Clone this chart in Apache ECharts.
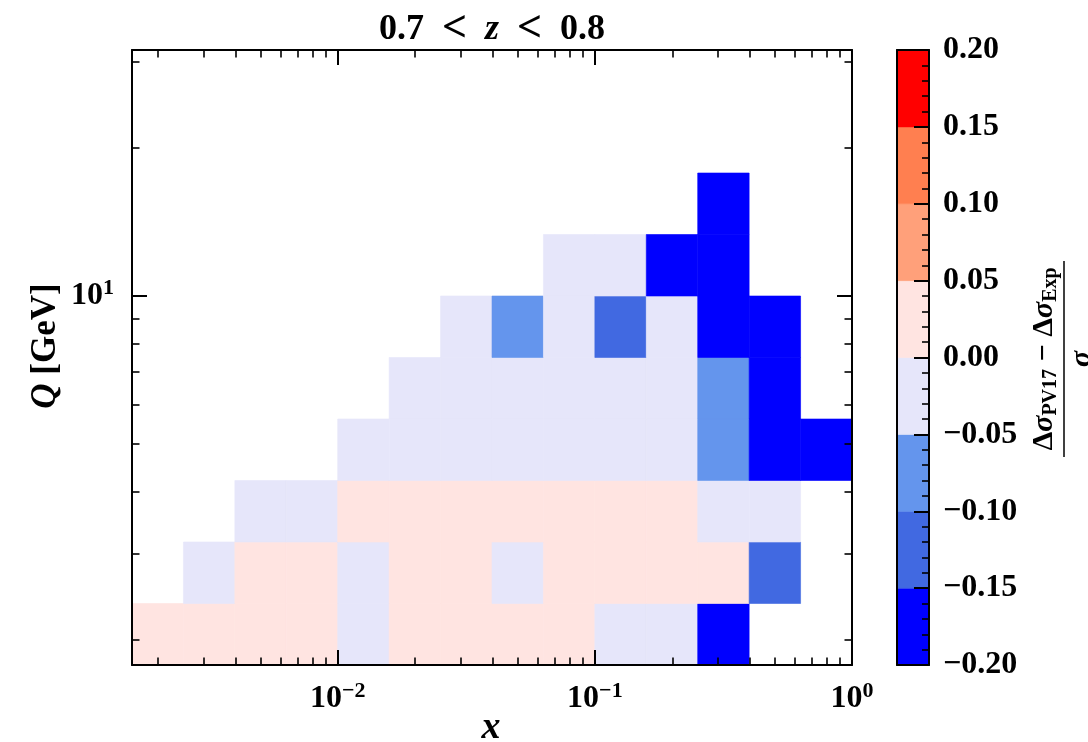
<!DOCTYPE html>
<html><head><meta charset="utf-8">
<script src="https://cdn.jsdelivr.net/npm/echarts@6/dist/echarts.min.js"></script>
<style>html,body{margin:0;padding:0;background:#fff}#c{width:1088px;height:742px}</style>
</head><body><div id="c"></div>
<script>
// ---- data (log10 bin edges, values per Q row from lowest Q upwards) ----
const xLog10Edges = [-2.8,-2.6,-2.4,-2.2,-2.0,-1.8,-1.6,-1.4,-1.2,-1.0,-0.8,-0.6,-0.4,-0.2,0.0];
const qLog10Edges = [0.25,0.375,0.5,0.625,0.75,0.875,1.0,1.125,1.25,1.375,1.5];
const row0 = [0.02,0.03,0.02,0.01,-0.01,0.02,0.01,0.03,0.02,-0.02,-0.01,-0.17,null,null];
const row1 = [null,-0.02,0.01,0.02,-0.03,0.02,0.01,-0.01,0.02,0.03,0.01,0.02,-0.12,null];
const row2 = [null,null,-0.01,-0.02,0.01,0.02,0.02,0.01,0.03,0.02,0.01,-0.02,-0.03,null];
const row3 = [null,null,null,null,-0.02,-0.01,-0.02,-0.03,-0.01,-0.02,-0.04,-0.07,-0.18,-0.19];
const row4 = [null,null,null,null,null,-0.02,-0.01,-0.03,-0.02,-0.01,-0.03,-0.08,-0.17,null];
const row5 = [null,null,null,null,null,null,-0.02,-0.07,-0.01,-0.13,-0.03,-0.18,-0.16,null];
const row6 = [null,null,null,null,null,null,null,null,-0.02,-0.03,-0.17,-0.19,null,null];
const row7 = [null,null,null,null,null,null,null,null,null,null,null,-0.18,null,null];
const rows = [row0,row1,row2,row3,row4,row5,row6,row7];

const levelEdges = [-0.20,-0.15,-0.10,-0.05,0.00,0.05,0.10,0.15,0.20];
const levelColors = ['#0000ff','#4169e1','#6495ed','#e6e6fa','#ffe4e1','#ffa07a','#ff7f50','#ff0000'];

const xMajorTicks = [0.01,0.1,1];
const xMinorTicks = [0.002,0.003,0.004,0.005,0.006,0.007,0.008,0.009,
                     0.02,0.03,0.04,0.05,0.06,0.07,0.08,0.09,
                     0.2,0.3,0.4,0.5,0.6,0.7,0.8,0.9];
const qMajorTicks = [10];
const qMinorTicks = [2,3,4,5,6,7,8,9,20,30];

// ---- build ----
const FONT = "'Liberation Serif','DejaVu Serif',serif";
const L = v => Math.log10(v);
const cells = [];
rows.forEach((r, i) => r.forEach((v, j) => {
  if (v !== null) cells.push([xLog10Edges[j], xLog10Edges[j+1], qLog10Edges[i], qLog10Edges[i+1], v]);
}));
const cbarCells = levelColors.map((c, k) => [0, 1, levelEdges[k], levelEdges[k+1], (levelEdges[k]+levelEdges[k+1])/2]);

const pieces = levelColors.map((c, k) => ({gte: levelEdges[k], lt: levelEdges[k+1], color: c}));

function renderRect(params, api) {
  const p0 = api.coord([api.value(0), api.value(3)]);
  const p1 = api.coord([api.value(1), api.value(2)]);
  const col = api.visual('color');
  return {type: 'rect', shape: {x: p0[0], y: p0[1], width: p1[0]-p0[0], height: p1[1]-p0[1]},
          style: {fill: col, stroke: col, lineWidth: 0.6}};
}

const line = {show: true, onZero: false, lineStyle: {color: '#000', width: 2}};
const noLine = {show: false, onZero: false};
const supRich = {
  b: {fontFamily: FONT, fontWeight: 'bold', fontSize: 32, lineHeight: 38, color: '#000'},
  s: {fontFamily: FONT, fontWeight: 'bold', fontSize: 22, lineHeight: 24, verticalAlign: 'top', color: '#000'}
};
const expLabel = v => { const e = Math.round(v); return '{b|10}{s|' + (e < 0 ? '\u2212' + (-e) : e) + '}'; };

function axX(pos, major, labels) {
  const vals = (major ? xMajorTicks : xMinorTicks).map(L);
  return {type: 'value', gridIndex: 0, position: pos, min: -2.8, max: 0, z: 10,
    axisLine: major ? line : noLine,
    axisTick: {show: true, inside: true, length: major ? 15 : 7.5, customValues: vals, lineStyle: {color: '#000', width: major ? 2 : 1.6}},
    axisLabel: labels ? {show: true, customValues: vals, formatter: expLabel, rich: supRich, margin: 15} : {show: false},
    splitLine: {show: false}};
}
function axY(pos, major, labels) {
  const vals = (major ? qMajorTicks : qMinorTicks).map(L);
  return {type: 'value', gridIndex: 0, position: pos, min: 0.25, max: 1.5, z: 10,
    axisLine: major ? line : noLine,
    axisTick: {show: true, inside: true, length: major ? 15 : 7.5, customValues: vals, lineStyle: {color: '#000', width: major ? 2 : 1.6}},
    axisLabel: labels ? {show: true, customValues: vals, formatter: expLabel, rich: supRich, margin: 18} : {show: false},
    splitLine: {show: false}};
}

const option = {
  animation: false,
  backgroundColor: '#fff',
  grid: [
    {left: 132, top: 50, width: 720, height: 615},
    {left: 897, top: 50, width: 32, height: 615}
  ],
  visualMap: {type: 'piecewise', show: false, dimension: 4, seriesIndex: [0, 1], pieces: pieces},
  xAxis: [
    axX('bottom', true, true), axX('bottom', false, false), axX('top', true, false), axX('top', false, false),
    {type: 'value', gridIndex: 1, position: 'bottom', min: 0, max: 1, z: 10, axisLine: line, axisTick: {show: false}, axisLabel: {show: false}, splitLine: {show: false}},
    {type: 'value', gridIndex: 1, position: 'top', min: 0, max: 1, z: 10, axisLine: line, axisTick: {show: false}, axisLabel: {show: false}, splitLine: {show: false}}
  ],
  yAxis: [
    axY('left', true, true), axY('left', false, false), axY('right', true, false), axY('right', false, false),
    {type: 'value', gridIndex: 1, position: 'right', min: -0.2, max: 0.2, interval: 0.05, z: 10,
      axisLine: line,
      axisTick: {show: true, inside: true, length: 15, lineStyle: {color: '#000', width: 2}},
      minorTick: {show: true, splitNumber: 5, length: 7, lineStyle: {color: '#000', width: 1.6}},
      axisLabel: {show: true, margin: 14, color: '#000', fontFamily: FONT, fontWeight: 'bold', fontSize: 32,
        formatter: v => Math.abs(v) < 1e-9 ? '0.00' : (v < 0 ? '\u2212' : '') + Math.abs(v).toFixed(2)},
      splitLine: {show: false}, minorSplitLine: {show: false}},
    {type: 'value', gridIndex: 1, position: 'left', min: -0.2, max: 0.2, z: 10, axisLine: line, axisTick: {show: false}, axisLabel: {show: false}, splitLine: {show: false}}
  ],
  series: [
    {type: 'custom', xAxisIndex: 0, yAxisIndex: 0, renderItem: renderRect, encode: {x: [0, 1], y: [2, 3]}, data: cells, clip: true},
    {type: 'custom', xAxisIndex: 4, yAxisIndex: 4, renderItem: renderRect, encode: {x: [0, 1], y: [2, 3]}, data: cbarCells}
  ],
  graphic: [
    {type: 'text', x: 492, y: 30, style: {
      text: '{n|0.7}{r|<}{i|z}{r|<}{n|0.8}', align: 'center', verticalAlign: 'middle',
      rich: {
        n: {fontFamily: FONT, fontWeight: 'bold', fontSize: 36, fill: '#000'},
        i: {fontFamily: FONT, fontWeight: 'bold', fontStyle: 'italic', fontSize: 36, fill: '#000'},
        r: {fontFamily: FONT, fontWeight: 'bold', fontSize: 44, fill: '#000', padding: [0, 18, 0, 18]}
      }}},
    {type: 'text', x: 491, y: 728, style: {text: 'x', align: 'center', verticalAlign: 'middle',
      fontFamily: FONT, fontWeight: 'bold', fontStyle: 'italic', fontSize: 38, fill: '#000'}},
    {type: 'text', x: 46, y: 346, rotation: Math.PI / 2, style: {
      text: '{i|Q} [GeV]', align: 'center', verticalAlign: 'middle',
      fontFamily: FONT, fontWeight: 'bold', fontSize: 35, fill: '#000',
      rich: {i: {fontFamily: FONT, fontWeight: 'bold', fontStyle: 'italic', fontSize: 35, fill: '#000'}}}},
    {type: 'group', x: 1064, y: 359, rotation: Math.PI / 2, children: [
      {type: 'text', x: 0, y: -3, style: {
        text: '{d|\u0394}{g|\u03c3}{sb|PV17}{d| \u2212 }{d|\u0394}{g|\u03c3}{sb|Exp}', align: 'center', verticalAlign: 'bottom',
        rich: {
          d: {fontFamily: FONT, fontWeight: 'bold', fontSize: 30, lineHeight: 34, fill: '#000'},
          g: {fontFamily: FONT, fontWeight: 'bold', fontStyle: 'italic', fontSize: 30, lineHeight: 34, fill: '#000'},
          sb: {fontFamily: FONT, fontWeight: 'bold', fontSize: 20, lineHeight: 22, verticalAlign: 'bottom', fill: '#000'}
        }}},
      {type: 'line', shape: {x1: -98, y1: 0, x2: 98, y2: 0}, style: {stroke: '#000', lineWidth: 1.5}},
      {type: 'text', x: 0, y: 3, style: {text: '\u03c3', align: 'center', verticalAlign: 'top',
        fontFamily: FONT, fontWeight: 'bold', fontStyle: 'italic', fontSize: 30, fill: '#000'}}
    ]}
  ]
};
const chart = echarts.init(document.getElementById('c'), null, {renderer: 'canvas'});
chart.setOption(option);
</script></body></html>
